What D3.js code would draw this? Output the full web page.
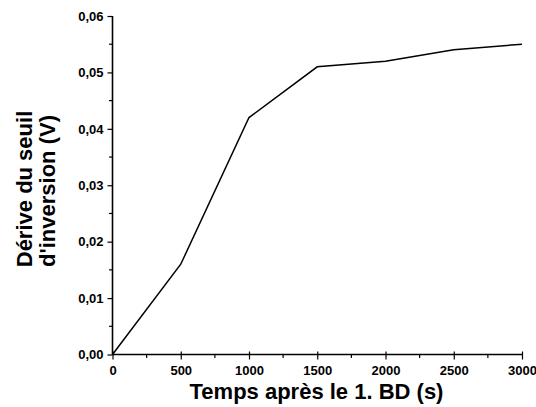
<!DOCTYPE html>
<html><head><meta charset="utf-8">
<script src="https://cdn.jsdelivr.net/npm/d3@7"></script>
<style>body{margin:0;background:#fff}svg{display:block}text{font-family:"Liberation Sans",Arial,sans-serif;font-weight:bold}</style>
</head><body>
<svg id="c" width="536" height="407"></svg>
<script>
const timeValues = [0, 500, 1000, 1500, 2000, 2500, 3000];
const driftValues = [0, 0.016, 0.042, 0.051, 0.052, 0.054, 0.055];
const xTicks = [0, 500, 1000, 1500, 2000, 2500, 3000];
const yTicks = [0, 0.01, 0.02, 0.03, 0.04, 0.05, 0.06];
const xTitle = "Temps après le 1. BD (s)";
const yTitleLines = ["Dérive du seuil", "d'inversion (V)"];

const svg = d3.select("#c");
const m = {l:112.5, r:522, t:16, b:354.5};
const x = d3.scaleLinear().domain([0,3000]).range([m.l, m.r]);
const y = d3.scaleLinear().domain([0,0.06]).range([m.b, m.t]);
const fmt = d => d3.format(".2f")(d).replace(".", ",");

// minor ticks
const xMinor = d3.range(250, 3000, 500);
const yMinor = d3.range(0.005, 0.06, 0.01);
const g = svg.append("g");
g.selectAll(".xm").data(xMinor).join("line")
  .attr("x1", d=>x(d)).attr("x2", d=>x(d)).attr("y1", m.b).attr("y2", m.b+3.5)
  .attr("stroke","#000").attr("stroke-width",1.2);
g.selectAll(".ym").data(yMinor).join("line")
  .attr("y1", d=>y(d)).attr("y2", d=>y(d)).attr("x1", m.l).attr("x2", m.l-3.5)
  .attr("stroke","#000").attr("stroke-width",1.2);

// x axis
const xa = svg.append("g").attr("transform",`translate(0,${m.b})`)
  .call(d3.axisBottom(x).tickValues(xTicks).tickSize(5).tickPadding(6).tickFormat(d3.format("d")));
xa.selectAll(".tick line").attr("y1",-3).attr("stroke-width",1.2);
xa.select(".domain").attr("stroke-width",1.6).attr("d",`M${m.l},0H${m.r}`);
xa.selectAll("text").attr("font-size",13).attr("fill","#000").attr("dy",null).attr("y",20.5);

// y axis
const ya = svg.append("g").attr("transform",`translate(${m.l},0)`)
  .call(d3.axisLeft(y).tickValues(yTicks).tickSize(5).tickPadding(4).tickFormat(fmt));
ya.selectAll(".tick line").attr("stroke-width",1.2);
ya.select(".domain").attr("stroke-width",1.6).attr("d",`M0,${m.b}V${m.t}`);
ya.selectAll("text").attr("font-size",13).attr("fill","#000").attr("x",-9);

// line
svg.append("path").datum(timeValues.map((t,i)=>[t, driftValues[i]]))
  .attr("fill","none").attr("stroke","#000").attr("stroke-width",1.5)
  .attr("d", d3.line().x(d=>x(d[0])).y(d=>y(d[1])));

// titles
svg.append("text").attr("x", 316.5).attr("y", 399).attr("text-anchor","middle")
  .attr("font-size",22).text(xTitle);
yTitleLines.forEach((s,i)=>{
  svg.append("text").attr("transform",`translate(${32+i*23},${189+i*2}) rotate(-90)`)
    .attr("text-anchor","middle").attr("font-size",22).text(s);
});
</script>
</body></html>
